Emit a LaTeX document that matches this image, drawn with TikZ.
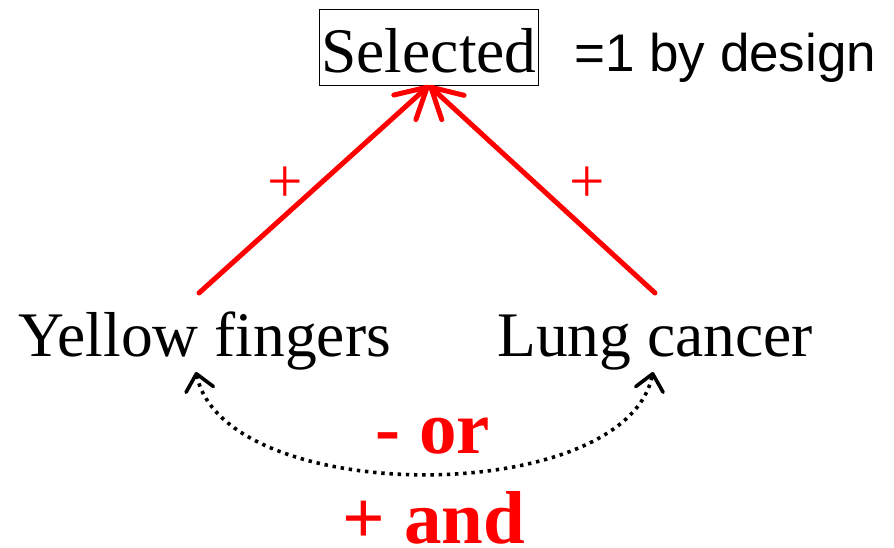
\documentclass[tikz,border=0pt]{standalone}
\usepackage{fontspec}
\setmainfont{Liberation Serif}
\newfontfamily\arialf{Liberation Sans}
\usetikzlibrary{arrows.meta}
\definecolor{pured}{RGB}{255,0,0}
\begin{document}
\begin{tikzpicture}[x=1pt,y=-1pt,
  lbl/.style={inner sep=0pt, anchor=base west, font=\fontsize{63.5}{70}\selectfont},
  redarrow/.style={draw=pured, line width=5pt, line cap=round,
    -{Straight Barb[length=30pt,width=33pt,round]}},
  sign/.style={text=pured, inner sep=0pt, font=\fontsize{63}{70}\selectfont},
  boldlbl/.style={text=pured, inner sep=0pt, anchor=base, font=\fontsize{75}{80}\selectfont\bfseries},
  dotarrow/.style={draw=black, line width=3.6pt, dash pattern=on 3.4pt off 4.8pt,
    {Straight Barb[length=16pt,width=28pt,round]}-{Straight Barb[length=16pt,width=28pt,round]}}
]
\useasboundingbox (0,0) rectangle (894,547);
\node[draw, line width=1pt, anchor=base, inner xsep=2pt, inner ysep=0pt,
      text height=63pt, text depth=13pt,
      font=\fontsize{63.5}{70}\selectfont] (sel) at (429,72) {Selected};
\node[inner sep=0pt, anchor=base west, font=\arialf\fontsize{53}{60}\selectfont] (design) at (574,71) {=1 by design};
\node[lbl] (yf) at (18,356) {Yellow fingers};
\node[lbl] (lc) at (497,356) {Lung cancer};
\coordinate (yftop) at (199,293);
\coordinate (lctop) at (655,293);
\draw[redarrow] (yftop) -- (sel.south);
\draw[redarrow] (lctop) -- (sel.south);
\node[sign] (p1) at (285,185) {+};
\node[sign] (p2) at (587,185) {+};
\coordinate (yfb) at (196,372);
\coordinate (lcb) at (653,372);
\draw[dotarrow] (yfb) .. controls (225,508) and (625,508) .. (lcb);
\node[boldlbl] (or) at (433,453) {- or};
\node[boldlbl] (and) at (434,543) {+ and};
\end{tikzpicture}
\end{document}
